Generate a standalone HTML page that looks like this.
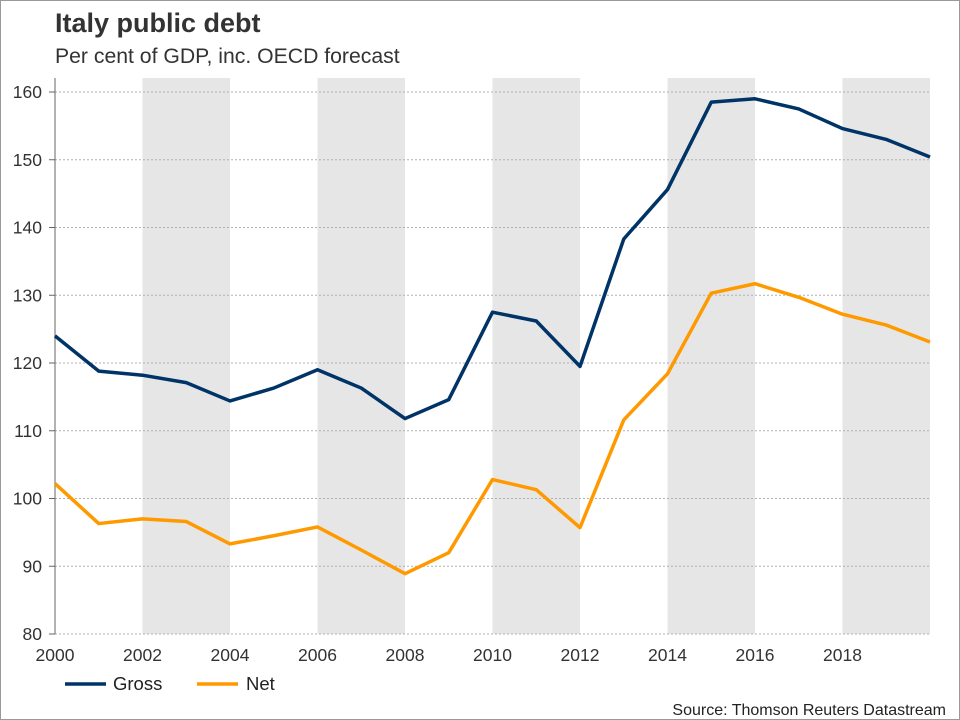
<!DOCTYPE html>
<html><head><meta charset="utf-8"><style>
html,body{margin:0;padding:0;background:#fff}
svg{display:block;font-family:"Liberation Sans",sans-serif}
</style></head><body>
<svg id="chart" width="960" height="720" viewBox="0 0 960 720">
<rect x="0.5" y="0.5" width="959" height="719" fill="#fff" stroke="#999"/>
<text x="55" y="32" font-size="27" font-weight="bold" fill="#333">Italy public debt</text>
<text x="55" y="63" font-size="21.2" fill="#333">Per cent of GDP, inc. OECD forecast</text>
<g id="bands"></g><g id="grid"></g><g id="axes"></g><g id="series"></g>
<g>
<line x1="65" y1="684" x2="106" y2="684" stroke="#003366" stroke-width="3.5"/>
<text x="113" y="690" font-size="18.5" fill="#222">Gross</text>
<line x1="197" y1="684" x2="238" y2="684" stroke="#ff9900" stroke-width="3.5"/>
<text x="246" y="690" font-size="18.5" fill="#222">Net</text>
</g>
<text x="946" y="715" font-size="16" fill="#222" text-anchor="end">Source: Thomson Reuters Datastream</text>
</svg>
<script>
const years=[2000,2001,2002,2003,2004,2005,2006,2007,2008,2009,2010,2011,2012,2013,2014,2015,2016,2017,2018,2019,2020];
const gross=[124,118.8,118.2,117.1,114.4,116.3,119,116.3,111.8,114.6,127.5,126.2,119.5,138.3,145.6,158.5,159,157.5,154.6,153,150.4];
const net=[102.2,96.3,97,96.6,93.3,94.5,95.8,92.4,88.9,92,102.8,101.3,95.7,111.6,118.4,130.3,131.7,129.7,127.2,125.6,123.1];
const yTicks=[80,90,100,110,120,130,140,150,160];
const xTicks=[2000,2002,2004,2006,2008,2010,2012,2014,2016,2018];
const bandStarts=[2002,2006,2010,2014,2018];
const NS="http://www.w3.org/2000/svg";
const L=55,R=930,T=78,B=634;
const x=v=>L+(v-2000)*(R-L)/20;
const y=v=>634-(v-80)*(634-92)/80;
function mk(t,a,p){const e=document.createElementNS(NS,t);for(const k in a)e.setAttribute(k,a[k]);p.appendChild(e);return e;}
const bands=document.getElementById('bands'),grid=document.getElementById('grid'),axes=document.getElementById('axes'),ser=document.getElementById('series');
bandStarts.forEach(s=>{const r=mk('rect',{x:x(s),y:T,width:x(Math.min(s+2,2020))-x(s),height:B-T,fill:'#e6e6e6'},bands);

});
yTicks.forEach(v=>{const l=mk('line',{x1:L,x2:R,y1:y(v),y2:y(v),stroke:'#b0b0b0','stroke-dasharray':'2,2','stroke-width':1},grid);


const tk=mk('line',{x1:L-6,x2:L,y1:y(v),y2:y(v),stroke:'#666'},axes);


const t=mk('text',{x:L-13,y:y(v)+6,'font-size':17.5,fill:'#333','text-anchor':'end'},axes);t.textContent=v;

});
const ya=mk('line',{x1:L,x2:L,y1:T,y2:B,stroke:'#666','stroke-width':1},axes);


xTicks.forEach(v=>{const t=mk('text',{x:x(v),y:B+27,'font-size':17.5,fill:'#333','text-anchor':'middle'},axes);t.textContent=v;

});
function line(vals,color,name){const p=mk('polyline',{points:vals.map((v,i)=>x(years[i])+','+y(v)).join(' '),fill:'none',stroke:color,'stroke-width':3.5,'stroke-linejoin':'round'},ser);

}
line(net,'#ff9900','net-line');
line(gross,'#003366','gross-line');
</script>
</body></html>
